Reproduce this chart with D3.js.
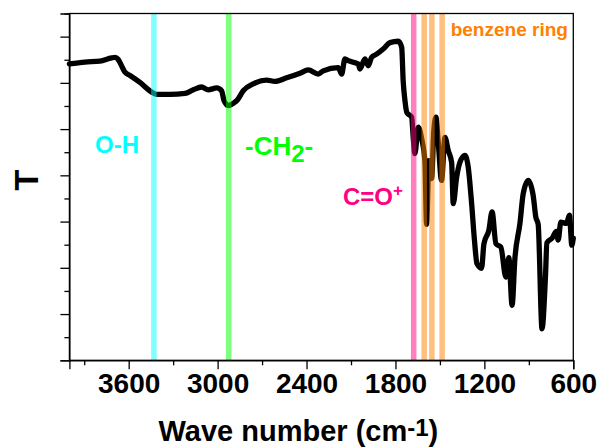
<!DOCTYPE html>
<html>
<head>
<meta charset="utf-8">
<script src="https://cdn.jsdelivr.net/npm/d3@7"></script>
<style>
  body { margin: 0; background: #fff; }
  svg text { font-family: "Liberation Sans", Arial, sans-serif; font-weight: bold; }
</style>
</head>
<body>
<svg id="chart" width="602" height="448"></svg>
<script>
// wavenumber (cm-1)
const waveNumbers = [4000, 3895, 3794, 3715, 3692, 3672, 3659, 3625, 3591, 3524,
  3445, 3411, 3321, 3220, 3164, 3108, 3063, 3006, 2973, 2957,
  2928, 2894, 2869, 2827, 2759, 2669, 2613, 2534, 2444, 2388,
  2321, 2287, 2186, 2163, 2141, 2119, 2051, 2040, 2006, 1984,
  1961, 1927, 1883, 1837, 1781, 1758, 1748, 1736, 1723, 1691,
  1680, 1669, 1646, 1623, 1601, 1590, 1574, 1556, 1541, 1527,
  1512, 1489, 1466, 1444, 1421, 1410, 1387, 1365, 1331, 1309,
  1286, 1267, 1250, 1219, 1203, 1170, 1148, 1122, 1089, 1055,
  1035, 1013, 994, 960, 938, 904, 871, 853, 837, 811,
  788, 778, 741, 714, 702, 684, 647, 626, 610, 600];
// transmittance, arbitrary units
const transmittance = [6.41, 6.45, 6.47, 6.54, 6.55, 6.51, 6.44, 6.23, 6.16, 6.01,
  5.80, 5.75, 5.75, 5.77, 5.85, 5.91, 5.85, 5.89, 5.83, 5.62,
  5.51, 5.56, 5.62, 5.83, 5.98, 6.06, 6.03, 6.11, 6.21, 6.28,
  6.19, 6.26, 6.33, 6.19, 6.52, 6.48, 6.41, 6.30, 6.52, 6.37,
  6.55, 6.62, 6.73, 6.87, 6.90, 6.77, 6.05, 5.62, 5.36, 5.26,
  4.82, 4.47, 5.04, 4.79, 4.29, 2.94, 4.32, 3.93, 4.97, 5.26,
  4.75, 3.89, 4.82, 4.54, 4.28, 3.39, 3.96, 4.28, 4.43, 4.18,
  3.39, 2.60, 2.09, 1.99, 2.52, 2.81, 3.21, 2.52, 2.45, 1.80,
  2.22, 1.19, 2.20, 2.96, 3.60, 3.89, 3.57, 3.10, 2.94, 0.68,
  1.80, 2.54, 2.65, 2.79, 2.60, 2.99, 2.96, 3.14, 2.49, 2.64];

const bandLines = [3430, 2925, 1677, 1606, 1554, 1485];
const bandColors = ["#00ffff", "#00ff00", "#ff0080", "#ff7f00", "#ff7f00", "#ff7f00"];

const xMajorTicks = [3600, 3000, 2400, 1800, 1200, 600];
const xMinorTicks = [3900, 3300, 2700, 2100, 1500, 900];
const yMajorTicks = [0, 1, 2, 3, 4, 5, 6, 7];
const yMinorTicks = [0.5, 1.5, 2.5, 3.5, 4.5, 5.5, 6.5, 7.5];

const svg = d3.select("#chart");
const plotLeft = 69.4, plotRight = 573.3, plotTop = 13.5, plotBottom = 360.3;

const x = d3.scaleLinear().domain([4000, 600]).range([plotLeft, plotRight]);
const y = d3.scaleLinear().domain([0, 7.5]).range([plotBottom, plotTop]);

const spectrum = waveNumbers.map((w, i) => ({ w: w, t: transmittance[i] }));

// spectrum
const line = d3.line()
  .x(d => x(d.w))
  .y(d => y(d.t))
  .curve(d3.curveMonotoneX);

svg.append("path")
  .datum(spectrum)
  .attr("d", line)
  .attr("fill", "none")
  .attr("stroke", "#000")
  .attr("stroke-width", 5.3)
  .attr("stroke-linejoin", "round")
  .attr("stroke-linecap", "round");

// marker bands, semi transparent over the curve
svg.selectAll("line.band")
  .data(bandLines)
  .enter()
  .append("line")
  .attr("class", "band")
  .attr("x1", d => x(d))
  .attr("x2", d => x(d))
  .attr("y1", plotTop)
  .attr("y2", plotBottom)
  .attr("stroke", (d, i) => bandColors[i])
  .attr("stroke-width", 5.5)
  .attr("stroke-opacity", 0.5);

// frame
svg.append("rect")
  .attr("x", plotLeft)
  .attr("y", plotTop)
  .attr("width", plotRight - plotLeft)
  .attr("height", plotBottom - plotTop)
  .attr("fill", "none")
  .attr("stroke", "#000")
  .attr("stroke-width", 1.3);

// x axis
const xAxis = svg.append("g")
  .attr("transform", `translate(0,${plotBottom})`)
  .call(d3.axisBottom(x).tickValues(xMajorTicks).tickSize(9).tickFormat(d3.format("d")));
xAxis.select(".domain").attr("stroke-width", 1.3);
xAxis.selectAll(".tick line").attr("stroke-width", 1.3);
xAxis.selectAll(".tick text")
  .attr("y", 32.4)
  .attr("dy", 0)
  .attr("font-size", 28)
  .attr("fill", "#000");

const xMinor = svg.append("g")
  .attr("transform", `translate(0,${plotBottom})`)
  .call(d3.axisBottom(x).tickValues(xMinorTicks).tickSize(5).tickFormat(""));
xMinor.select(".domain").remove();
xMinor.selectAll(".tick line").attr("stroke-width", 1.3);

// y axis
const yAxis = svg.append("g")
  .attr("transform", `translate(${plotLeft},0)`)
  .call(d3.axisLeft(y).tickValues(yMajorTicks).tickSize(9).tickFormat(""));
yAxis.select(".domain").attr("stroke-width", 1.3);
yAxis.selectAll(".tick line").attr("stroke-width", 1.3);

const yMinor = svg.append("g")
  .attr("transform", `translate(${plotLeft},0)`)
  .call(d3.axisLeft(y).tickValues(yMinorTicks).tickSize(5).tickFormat(""));
yMinor.select(".domain").remove();
yMinor.selectAll(".tick line").attr("stroke-width", 1.3);

// axis titles
const xTitle = svg.append("text")
  .attr("x", 298.4)
  .attr("y", 441)
  .attr("text-anchor", "middle")
  .attr("font-size", 29)
  .attr("fill", "#000");
xTitle.append("tspan").text("Wave number (cm");
xTitle.append("tspan").attr("font-size", 24).attr("dy", -5).text("-1");
xTitle.append("tspan").attr("dy", 5).text(")");

svg.append("text")
  .attr("transform", "translate(37.7,180) rotate(-90)")
  .attr("text-anchor", "middle")
  .attr("font-size", 34)
  .attr("fill", "#000")
  .text("T");

// annotations
svg.append("text")
  .attr("x", 95).attr("y", 153.3)
  .attr("font-size", 24)
  .attr("fill", "#00ffff")
  .text("O-H");

const ch2 = svg.append("text")
  .attr("x", 245).attr("y", 155)
  .attr("font-size", 26)
  .attr("fill", "#00ff00");
ch2.append("tspan").text("-CH");
ch2.append("tspan").attr("font-size", 24).attr("dy", 7).text("2");
ch2.append("tspan").attr("dy", -7).text("-");

const co = svg.append("text")
  .attr("x", 343).attr("y", 205)
  .attr("font-size", 24)
  .attr("fill", "#ff0080");
co.append("tspan").text("C=O");
co.append("tspan").attr("font-size", 17).attr("dy", -9).text("+");

svg.append("text")
  .attr("x", 450.7).attr("y", 36.3)
  .attr("font-size", 19)
  .attr("fill", "#ff7f00")
  .text("benzene ring");
</script>
</body>
</html>
